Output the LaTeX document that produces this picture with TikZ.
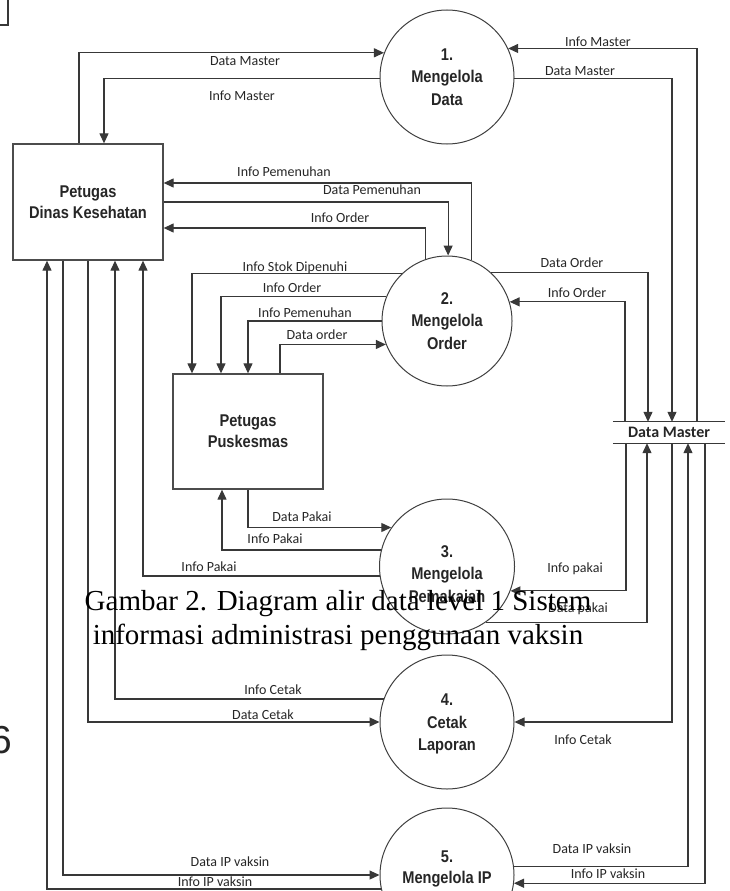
\documentclass[tikz,border=0pt]{standalone}
\usepackage{fontspec}
\setmainfont{Liberation Serif}
\newfontfamily\lblfont{Carlito}
\newfontfamily\procfont{Liberation Sans}[FakeStretch=0.86]
\newfontfamily\numfont{Liberation Sans}
\usetikzlibrary{arrows.meta}
\tikzset{
  flowline/.style={draw=black!78, line width=1.2pt},
  arr/.style={flowline, -{Triangle[length=10pt,width=9pt]}},
  ent/.style={draw=black!70, line width=1.3pt, rectangle, minimum width=150pt,
    minimum height=116pt, inner sep=0pt, align=center,
    font=\procfont\bfseries\fontsize{17}{21}\selectfont, text=black!85},
  proc/.style={draw=black!75, line width=1pt, circle, minimum size=134pt, inner sep=0pt},
  ptext/.style={align=center, font=\procfont\bfseries\fontsize{17}{22.5}\selectfont,
    text=black!85, inner sep=0pt},
  lbl/.style={font=\lblfont\fontsize{14}{16}\selectfont, text=black!85, inner sep=0pt,
    anchor=base, yshift=-4.5pt},
  captxt/.style={font=\fontsize{29}{34}\selectfont, anchor=base, inner sep=0pt, text=black},
}
\begin{document}
\begin{tikzpicture}[x=1pt,y=-1pt]
\useasboundingbox (0,0) rectangle (729,891);

% fragments at the page edge
\draw[flowline] (8,-2) -- (8,25) -- (-2,25);
\node[font=\numfont\fontsize{39}{40}\selectfont, anchor=base west, inner sep=0pt, text=black!85] (pg) at (-10,753) {6};

% entities
\node[ent] (dinkes) at (88,202) {Petugas\\Dinas Kesehatan};
\node[ent, minimum height=115pt] (pusk) at (248,431.5) {Petugas\\Puskesmas};

% processes
\node[proc, label={[ptext]center:{1.\\Mengelola\\Data}}] (p1) at (447,77) {};
\node[proc, minimum size=130pt, label={[ptext]center:{2.\\Mengelola\\Order}}] (p2) at (447,321) {};
\node[proc, minimum size=135pt, label={[ptext,yshift=-7.5pt]center:{3.\\Mengelola\\Pemakaian}}] (p3) at (447,566.5) {};
\node[proc, label={[ptext,yshift=-2pt]center:{4.\\Cetak\\Laporan}}] (p4) at (447,722) {};
\node[proc, label={[ptext,yshift=-3pt,font=\procfont\bfseries\fontsize{17}{21}\selectfont]center:{5.\\Mengelola IP\\vaksin}}] (p5) at (447,875) {};

% data store
\node[inner sep=0pt, minimum width=112pt, minimum height=21pt,
  font=\lblfont\bfseries\fontsize{16}{18}\selectfont, text=black!85] (store) at (669,432.5) {Data Master};
\draw[flowline] (store.north west) -- (store.north east);
\draw[flowline] (store.south west) -- (store.south east);

% process 1
\draw[arr] (dinkes.north -| 79,0) |- (p1.159);
\draw[arr] (p1.181) -| (dinkes.north -| 104,0);
\draw[arr] (store.north -| 697,0) |- (p1.25);
\draw[arr] (p1.-1) -| (store.north -| 672,0);
\node[lbl] (l1) at (245,61) {Data Master};
\node[lbl] (l2) at (242,96) {Info Master};
\node[lbl] (l3) at (598,42) {Info Master};
\node[lbl] (l4) at (580,71) {Data Master};

% process 2
\draw[arr] (p2.68) |- (dinkes.east |- 0,183);
\draw[arr] (dinkes.east |- 0,202) -| (p2.89);
\draw[arr] (p2.109) |- (dinkes.east |- 0,228);
\draw[arr] (p2.134) -| (pusk.north -| 192,0);
\draw[arr] (p2.158) -| (pusk.north -| 221,0);
\draw[arr] (p2.180) -| (pusk.north -| 248,0);
\draw[arr] (pusk.north -| 280,0) |- (p2.201);
\draw[arr] (p2.48) -| (store.north -| 648,0);
\draw[arr] (store.north -| 625,0) |- (p2.17);
\node[lbl] (l5) at (284,172) {Info Pemenuhan};
\node[lbl] (l6) at (372,190) {Data Pemenuhan};
\node[lbl] (l7) at (340,218) {Info Order};
\node[lbl] (l8) at (295,267) {Info Stok Dipenuhi};
\node[lbl] (l9) at (292,288) {Info Order};
\node[lbl] (l10) at (305,313) {Info Pemenuhan};
\node[lbl] (l11) at (317,335) {Data order};
\node[lbl] (l12) at (572,263) {Data Order};
\node[lbl] (l13) at (577,293) {Info Order};

% process 3
\draw[arr] (pusk.south -| 248,0) |- (p3.145);
\draw[arr] (p3.166) -| (pusk.south -| 222,0);
\draw[arr] (p3.188) -| (dinkes.south -| 143,0);
\draw[arr] (store.south -| 626,0) |- (p3.339);
\draw[arr] (p3.305) -| (store.south -| 647,0);
\node[lbl] (l14) at (302,517) {Data Pakai};
\node[lbl] (l15) at (275,539) {Info Pakai};
\node[lbl] (l16) at (209,567) {Info Pakai};
\node[lbl] (l17) at (575,568) {Info pakai};
\node[lbl] (l18) at (578,608) {Data pakai};

% process 4
\draw[arr] (p4.160) -| (dinkes.south -| 115,0);
\draw[arr] (dinkes.south -| 88,0) |- (p4.180);
\draw[arr] (store.south -| 672,0) |- (p4.0);
\node[lbl] (l19) at (273,690) {Info Cetak};
\node[lbl] (l20) at (263,715) {Data Cetak};
\node[lbl] (l21) at (583,740) {Info Cetak};

% process 5
\draw[arr] (dinkes.south -| 63,0) |- (p5.180);
\draw[arr] (p5.192) -| (dinkes.south -| 47,0);
\draw[arr] (p5.7) -| (store.south -| 688,0);
\draw[arr] (store.south -| 705,0) |- (p5.353);
\node[lbl] (l22) at (230,862) {Data IP vaksin};
\node[lbl] (l23) at (215,882) {Info IP vaksin};
\node[lbl] (l24) at (592,849) {Data IP vaksin};
\node[lbl] (l25) at (608,874) {Info IP vaksin};

% caption overlaid
\node[captxt] (cap1) at (338,610) {Gambar 2. Diagram alir data level 1 Sistem};
\node[captxt] (cap2) at (338,644) {informasi administrasi penggunaan vaksin};
\end{tikzpicture}
\end{document}
